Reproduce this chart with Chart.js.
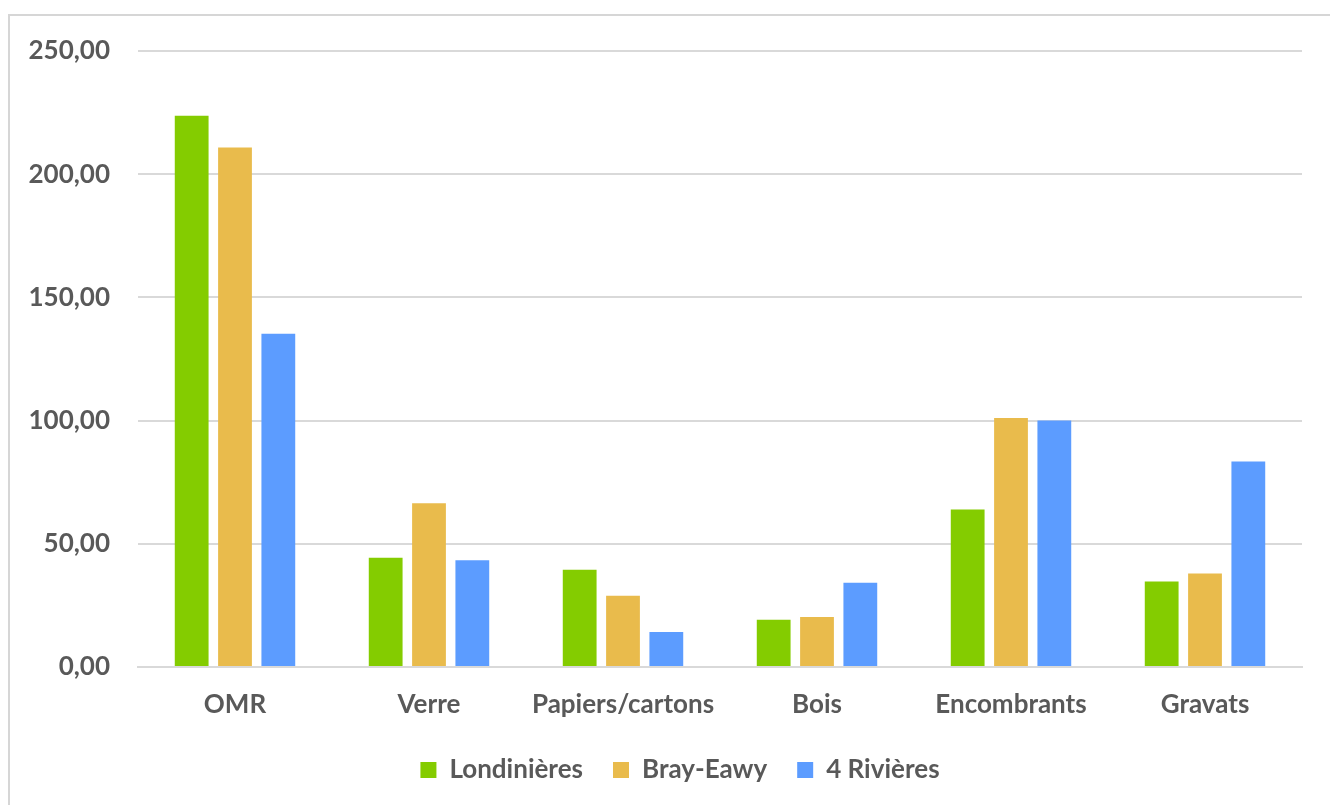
<!DOCTYPE html>
<html lang="fr">
<head>
<meta charset="utf-8">
<title>Tonnages par filière</title>
<script src="https://cdn.jsdelivr.net/npm/chart.js@4/dist/chart.umd.min.js"></script>
<style>
  html, body { margin: 0; padding: 0; background: #fff; }
  body { width: 1330px; height: 805px; position: relative; overflow: hidden; }
  .cadre {
    position: absolute; left: 8px; top: 14px; width: 1340px; height: 820px;
    border-left: 2px solid #d6d6d6; border-top: 2px solid #d6d6d6;
  }
  #graph { position: absolute; left: 0; top: 0; }
</style>
</head>
<body>
<div class="cadre"></div>
<canvas id="graph" width="1330" height="805"></canvas>
<script>
// Filières de déchets (abscisse)
const categories = ["OMR", "Verre", "Papiers/cartons", "Bois", "Encombrants", "Gravats"];

// kg/hab par territoire
const londinieres = [223.7, 44.3, 39.5, 19.2, 63.9, 34.7];
const brayEawy = [210.8, 66.5, 28.9, 20.3, 101.1, 37.9];
const quatreRivieres = [135.2, 43.3, 14.2, 34.2, 100.0, 83.4];

const series = ["Londinières", "Bray-Eawy", "4 Rivières"];
const couleurs = ["#84cc00", "#e9bb4c", "#5c9cff"];

const police = "Lato, 'Open Sans', sans-serif";
const gris = "#595959";

// Format français : 2 décimales, virgule
function formatFr(v) {
    return Number(v).toFixed(2).replace(".", ",");
}

// Décale un peu la légende vers la droite
const decalageLegende = {
    id: "decalageLegende",
    afterLayout(chart) {
        chart.legend.left += 19;
        chart.legend.right += 19;
    },
};

const ctx = document.getElementById("graph").getContext("2d");

new Chart(ctx, {
    type: "bar",
    data: {
        labels: categories,
        datasets: [londinieres, brayEawy, quatreRivieres].map((valeurs, i) => ({
            label: series[i],
            data: valeurs,
            backgroundColor: couleurs[i],
            borderWidth: 0,
            barPercentage: 0.78,
            categoryPercentage: 0.67,
        })),
    },
    options: {
        responsive: false,
        animation: false,
        layout: {
            padding: { left: 20, right: 28, top: 51, bottom: 12 },
        },
        scales: {
            x: {
                afterFit: (scale) => { scale.height = 60; },
                grid: { display: false, drawTicks: false },
                border: { color: "#d9d9d9", width: 2 },
                ticks: {
                    color: gris,
                    padding: 22,
                    font: { family: police, size: 26, weight: "bold" },
                },
            },
            y: {
                min: 0,
                max: 250,
                // largeur fixe pour caler la zone de tracé
                afterFit: (scale) => { scale.width = 118; },
                grid: { color: "#d9d9d9", lineWidth: 2, drawTicks: false },
                border: { display: false },
                ticks: {
                    stepSize: 50,
                    color: gris,
                    padding: 28,
                    font: { family: police, size: 26, weight: "bold" },
                    callback: (v) => formatFr(v),
                },
            },
        },
        plugins: {
            legend: {
                position: "bottom",
                labels: {
                    color: gris,
                    boxWidth: 16,
                    boxHeight: 16,
                    padding: 30,
                    font: { family: police, size: 26, weight: "bold" },
                },
            },
            tooltip: { enabled: false },
        },
    },
    plugins: [decalageLegende],
});
</script>
</body>
</html>
